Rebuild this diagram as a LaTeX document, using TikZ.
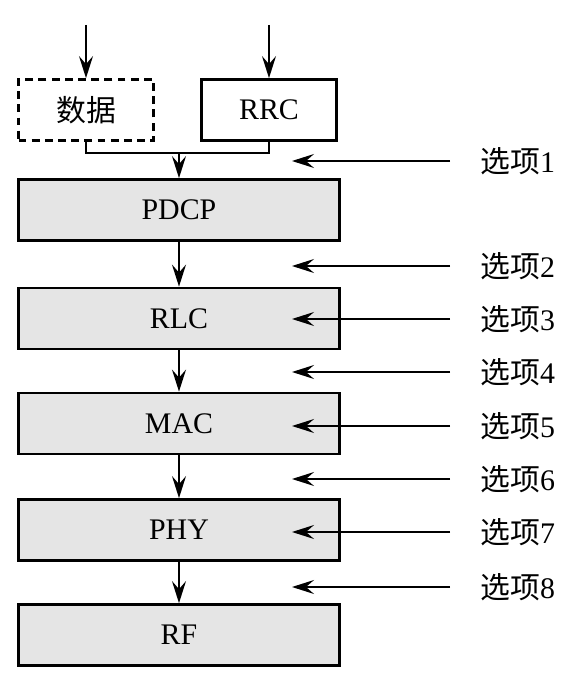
\documentclass[tikz,border=0pt]{standalone}
\usepackage{fontspec}
\setmainfont{Liberation Serif}
\newfontfamily\cjk{Noto Sans CJK SC}
\usetikzlibrary{arrows.meta}

\begin{document}
\begin{tikzpicture}[font=\fontsize{17}{20}\selectfont,x=1cm,y=1cm,
    >={Stealth[length=4.4mm,width=2.8mm,inset=1.6mm]}]
    \tikzset{
        layer/.style={draw,line width=1.6pt,fill=black!10,minimum width=6.42cm,minimum height=1.22cm},
        source/.style={draw,line width=1.6pt,fill=white,minimum width=2.70cm,minimum height=1.22cm},
        flow/.style={->,line width=0.9pt},
        option/.style={anchor=west,inner sep=0pt}
    }
    \useasboundingbox (0,0) rectangle (11.46,13.70);

    % inputs
    \node[source,dash pattern=on 4.5pt off 3pt] (data) at (1.72,11.50) {{\cjk 数据}};
    \node[source] (rrc) at (5.38,11.50) {RRC};
    \coordinate (indata) at (1.72,13.20);
    \coordinate (inrrc) at (5.38,13.20);
    \draw[flow] (indata) -- (data.north);
    \draw[flow] (inrrc) -- (rrc.north);

    % protocol stack
    \node[layer] (pdcp) at (3.58,9.50) {PDCP};
    \node[layer] (rlc) at (3.58,7.33) {RLC};
    \node[layer] (mac) at (3.58,5.23) {MAC};
    \node[layer] (phy) at (3.58,3.10) {PHY};
    \node[layer] (rf) at (3.58,1.00) {RF};

    \coordinate (join) at (3.58,10.64);
    \draw[line width=0.9pt] (data.south) |- (join) -| (rrc.south);
    \draw[flow] (join) -- (pdcp.north);
    \foreach \a/\b in {pdcp/rlc,rlc/mac,mac/phy,phy/rf}
        \draw[flow] (\a.south) -- (\b.north);

    % split options
    \foreach \y [count=\i] in {10.48,8.38,7.32,6.26,5.18,4.12,3.06,1.96} {
        \node[option] (opt\i) at (9.60,\y) {{\cjk 选项}\i};
        \coordinate (tip\i) at (5.84,\y);
        \draw[flow,shorten <=6mm] (opt\i.west) -- (tip\i);
    }
\end{tikzpicture}
\end{document}
